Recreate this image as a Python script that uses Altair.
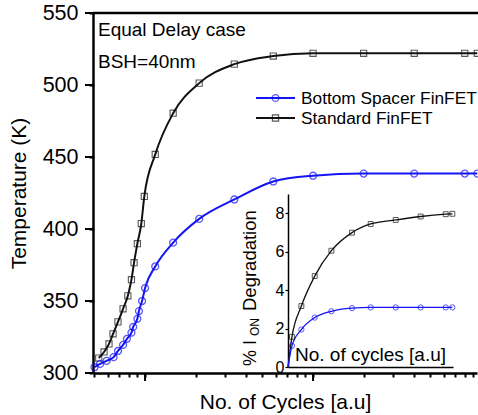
import altair as alt
import pandas as pd

# ---------------- data ----------------
series_names = ["Bottom Spacer FinFET", "Standard FinFET"]

bs_cycles = [5.0, 5.4, 5.9, 6.5, 6.9, 7.4, 7.8, 8.3, 8.5, 9.0, 9.2, 9.6, 10, 11.5, 14.7, 21, 34, 58, 100, 200, 400, 800, 950]
bs_temp = [304, 306.3, 308.4, 311, 315.3, 319.5, 323.7, 328, 332, 337.6, 343, 350, 359, 374, 390.5, 407, 420.5, 433, 437, 438.5, 438.5, 438.5, 438.5]

std_cycles = [5.3, 5.7, 6.1, 6.45, 6.9, 7.4, 7.9, 8.3, 8.6, 9.0, 9.5, 9.9, 11.5, 14.7, 21, 34, 58, 100, 200, 400, 800, 950]
std_temp = [310.4, 314.6, 320.2, 327.2, 335.5, 344.6, 353.6, 364.8, 376.6, 389.8, 403.8, 422.6, 451.8, 480.4, 501.3, 514.5, 520.1, 522, 522, 522, 522, 522]

inset_cycles = [0, 0.24, 0.81, 1.62, 2.63, 3.88, 5.01, 6.53, 8.04, 9.56, 9.96]
inset_std_deg = [0, 1.57, 3.17, 4.73, 6.05, 6.99, 7.44, 7.65, 7.83, 7.95, 7.97]
inset_bs_deg = [0, 1.10, 1.95, 2.57, 2.90, 3.06, 3.10, 3.10, 3.10, 3.10, 3.10]

x_major = [10, 100]
x_minor = [5, 6, 7, 8, 9, 20, 30, 40, 50, 60, 70, 80, 90, 200, 300, 400, 500, 600, 700, 800, 900]
y_ticks = list(range(300, 551, 25))
y_major = [300, 350, 400, 450, 500, 550]
inset_y_ticks = [0, 2, 4, 6, 8]

annotations = ["Equal Delay case", "BSH=40nm"]
inset_x_title = "No. of cycles [a.u]"

BLUE = "#1414f5"
BLACK = "#111111"
FONT = "Liberation Sans"

W, H = 384, 360

# ---------------- main chart ----------------
xs = alt.Scale(type="log", domain=[4.90, 946], nice=False)
ys = alt.Scale(domain=[300, 550], nice=False)

bs_df = pd.DataFrame({"c": bs_cycles, "t": bs_temp})
std_df = pd.DataFrame({"c": std_cycles, "t": std_temp})

x_enc = alt.X("c:Q", scale=xs, axis=alt.Axis(
    values=x_major + x_minor, labels=False, tickSize=4, tickWidth=2,
    domainWidth=2.5, domainColor="black", tickColor="black", grid=False,
    title="No. of Cycles [a.u]", titleFontSize=21, titleFontWeight="normal",
    titleY=35, titleBaseline="alphabetic", titleColor="black"))
y_enc = alt.Y("t:Q", scale=ys, axis=alt.Axis(
    values=y_ticks, labelExpr="datum.value % 50 == 0 ? datum.label : ''",
    tickSize=4, tickWidth=2, labelPadding=11, labelFontSize=21.5, labelColor="black",
    domainWidth=2.5, domainColor="black", tickColor="black", grid=False,
    title="Temperature (K)", titleFontSize=21, titleFontWeight="normal",
    titlePadding=13, titleColor="black"))

std_line = alt.Chart(std_df).mark_line(color=BLACK, strokeWidth=2, interpolate="monotone").encode(x=x_enc, y=y_enc)
std_pts = alt.Chart(std_df).mark_point(shape="square", filled=False, size=38, strokeWidth=1.1, color=BLACK).encode(
    x=alt.X("c:Q", scale=xs), y=alt.Y("t:Q", scale=ys))
bs_line = alt.Chart(bs_df).mark_line(color=BLUE, strokeWidth=2, interpolate="monotone").encode(
    x=alt.X("c:Q", scale=xs), y=alt.Y("t:Q", scale=ys))
bs_pts = alt.Chart(bs_df).mark_point(shape="circle", filled=False, size=48, strokeWidth=1.3, color=BLUE).encode(
    x=alt.X("c:Q", scale=xs), y=alt.Y("t:Q", scale=ys))

# longer major ticks
xmaj = alt.Chart(pd.DataFrame({"v": x_major})).mark_rule(color="black", strokeWidth=2).encode(
    x=alt.X("v:Q", scale=xs), y=alt.value(H), y2=alt.value(H + 8))
ymaj = alt.Chart(pd.DataFrame({"v": y_major})).mark_rule(color="black", strokeWidth=2).encode(
    y=alt.Y("v:Q", scale=ys), x=alt.value(-8), x2=alt.value(0))

# top frame line
top_line = alt.Chart(pd.DataFrame({"a": [0]})).mark_rule(color="black", strokeWidth=2.5).encode(
    x=alt.value(0), x2=alt.value(W + 2), y=alt.value(0))

# annotations
ann1 = alt.Chart(pd.DataFrame({"s": [annotations[0]]})).mark_text(
    align="left", baseline="alphabetic", fontSize=19, font=FONT, color="black").encode(
    text="s:N", x=alt.value(5), y=alt.value(23))
ann2 = alt.Chart(pd.DataFrame({"s": [annotations[1]]})).mark_text(
    align="left", baseline="alphabetic", fontSize=19, font=FONT, color="black").encode(
    text="s:N", x=alt.value(5), y=alt.value(55))

# legend
leg = []
for i, (name, col, shp, sz) in enumerate([(series_names[0], BLUE, "circle", 48), (series_names[1], BLACK, "square", 38)]):
    yy = 85 + 20 * i
    d = pd.DataFrame({"s": [name]})
    leg.append(alt.Chart(d).mark_rule(color=col, strokeWidth=2).encode(x=alt.value(163), x2=alt.value(202), y=alt.value(yy)))
    leg.append(alt.Chart(d).mark_point(shape=shp, filled=False, size=sz, strokeWidth=1.2, color=col).encode(x=alt.value(182.5), y=alt.value(yy)))
    leg.append(alt.Chart(d).mark_text(align="left", baseline="middle", fontSize=17.3, font=FONT, color="black").encode(
        text="s:N", x=alt.value(208), y=alt.value(yy + 1)))

main = alt.layer(std_line, bs_line, std_pts, bs_pts, xmaj, ymaj, top_line, ann1, ann2, *leg)

# ---------------- inset ----------------
ixs = alt.Scale(domain=[0, 10], range=[195, 360], nice=False, zero=False)
iys = alt.Scale(domain=[0, 9], range=[354, 181], nice=False, zero=False)

ins_df = pd.DataFrame({"c": inset_cycles, "std": inset_std_deg, "bs": inset_bs_deg})

ix_enc = alt.X("c:Q", scale=ixs, axis=alt.Axis(orient="bottom", offset=-6, labels=False, ticks=False,
                                                 title=None, grid=False, domainWidth=1.5, domainColor="black"))
iy_enc = alt.Y("std:Q", scale=iys, axis=alt.Axis(orient="left", offset=-195, values=inset_y_ticks,
                                                   tickSize=3, tickWidth=1.2, labelPadding=1, labelFontSize=16,
                                                   labelColor="black", title=None, grid=False, domainWidth=1.5,
                                                   domainColor="black", tickColor="black"))

i_std_line = alt.Chart(ins_df).mark_line(color=BLACK, strokeWidth=1.3, interpolate="monotone").encode(x=ix_enc, y=iy_enc)
i_bs_line = alt.Chart(ins_df).mark_line(color=BLUE, strokeWidth=1.3, interpolate="monotone").encode(
    x=alt.X("c:Q", scale=ixs), y=alt.Y("bs:Q", scale=iys))
i_std_pts = alt.Chart(ins_df).transform_filter("datum.c > 0").mark_point(
    shape="square", filled=False, size=24, strokeWidth=1, color=BLACK).encode(
    x=alt.X("c:Q", scale=ixs), y=alt.Y("std:Q", scale=iys))
i_bs_pts = alt.Chart(ins_df).transform_filter("datum.c > 0").mark_point(
    shape="circle", filled=False, size=28, strokeWidth=1, color=BLUE).encode(
    x=alt.X("c:Q", scale=ixs), y=alt.Y("bs:Q", scale=iys))

i_xt = alt.Chart(pd.DataFrame({"s": [inset_x_title]})).mark_text(
    align="left", baseline="alphabetic", fontSize=19, font=FONT, color="black").encode(
    text="s:N", x=alt.value(202), y=alt.value(348))
i_yt1 = alt.Chart(pd.DataFrame({"s": ["% I"]})).mark_text(
    align="left", baseline="alphabetic", angle=270, fontSize=18, font=FONT, color="black").encode(
    text="s:N", x=alt.value(163), y=alt.value(353))
i_yt2 = alt.Chart(pd.DataFrame({"s": ["ON"]})).mark_text(
    align="left", baseline="alphabetic", angle=270, fontSize=12, font=FONT, color="black").encode(
    text="s:N", x=alt.value(166), y=alt.value(323))
i_yt3 = alt.Chart(pd.DataFrame({"s": ["Degradation"]})).mark_text(
    align="left", baseline="alphabetic", angle=270, fontSize=18.5, font=FONT, color="black").encode(
    text="s:N", x=alt.value(163), y=alt.value(298))

inset = alt.layer(i_std_line, i_bs_line, i_std_pts, i_bs_pts, i_xt, i_yt1, i_yt2, i_yt3)

chart = alt.layer(main, inset).resolve_scale(x="independent", y="independent").properties(
    width=W, height=H,
    autosize=alt.AutoSizeParams(type="none"),
    padding={"left": 93, "top": 13, "right": 1, "bottom": 42},
).configure(font=FONT).configure_view(stroke=None).configure_axis(labelFont=FONT, titleFont=FONT)

chart.save("out.html", embed_options={"renderer": "svg", "actions": False})
